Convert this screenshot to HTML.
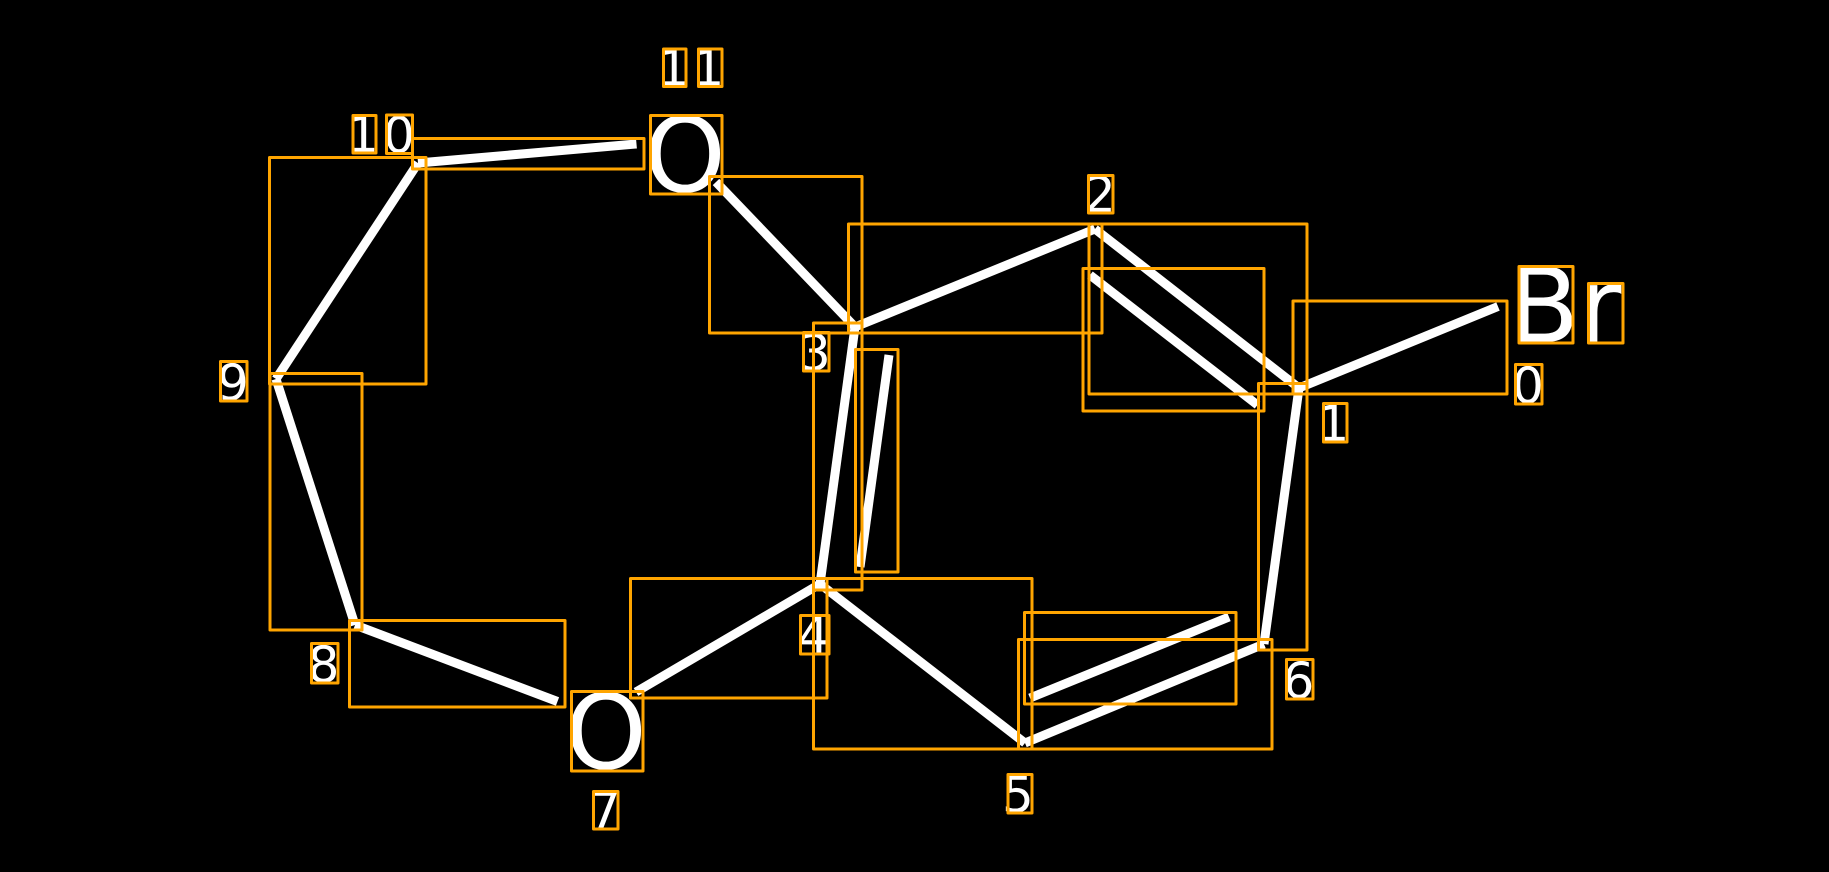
<!DOCTYPE html>
<html>
<head>
<meta charset="utf-8">
<style>
html,body{margin:0;padding:0;background:#000;width:1829px;height:872px;overflow:hidden}
svg{display:block}
text{font-family:"DejaVu Sans",sans-serif;fill:#fff;text-rendering:geometricPrecision}
.s{font-size:50px}
.b{font-size:104px}
</style>
</head>
<body>
<svg width="1829" height="872" viewBox="0 0 1829 872" xmlns="http://www.w3.org/2000/svg">
<rect width="1829" height="872" fill="#000"/>
<g stroke="#fff" stroke-width="9" fill="none" stroke-linecap="butt">
<line x1="1498" y1="306.5" x2="1299" y2="388"/>
<line x1="1299" y1="388" x2="1095" y2="229"/>
<line x1="1257.5" y1="405" x2="1090" y2="275"/>
<line x1="1095" y1="229" x2="855" y2="327"/>
<line x1="855" y1="327" x2="820" y2="584"/>
<line x1="889" y1="355" x2="860" y2="567"/>
<line x1="820" y1="584" x2="1025" y2="743"/>
<line x1="1025" y1="743" x2="1264" y2="644"/>
<line x1="1030" y1="698" x2="1229" y2="617"/>
<line x1="1264" y1="644" x2="1299" y2="388"/>
<line x1="820" y1="584" x2="636" y2="692"/>
<line x1="557.5" y1="701.5" x2="355" y2="625"/>
<line x1="355" y1="625" x2="276" y2="379"/>
<line x1="276" y1="379" x2="418" y2="163"/>
<line x1="418" y1="163" x2="636.5" y2="144"/>
<line x1="716" y1="182" x2="855" y2="327"/>
</g>
<text class="b" x="644" y="191.5">O</text>
<text class="b" x="565" y="768.5">O</text>
<text class="b" x="1508" y="342">B</text>
<text class="b" x="1578.5" y="342">r</text>
<text class="s" x="1512" y="403">0</text>
<text class="s" x="1317.5" y="441">1</text>
<text class="s" x="1084" y="212">2</text>
<text class="s" x="799" y="370">3</text>
<text class="s" x="797.5" y="653">4</text>
<text class="s" x="1002" y="812">5</text>
<text class="s" x="1282.5" y="698">6</text>
<text class="s" x="589" y="828">7</text>
<text class="s" x="307.6" y="682">8</text>
<text class="s" x="217" y="400">9</text>
<text class="s" x="347" y="152">1</text>
<text class="s" x="383" y="152.5">0</text>
<text class="s" x="657.5" y="85.5">1</text>
<text class="s" x="692.5" y="85.5">1</text>
<g stroke="#FFA500" stroke-width="3" fill="none" stroke-linejoin="round">
<rect x="1293" y="301" width="214" height="93"/>
<rect x="1089" y="224" width="218" height="170"/>
<rect x="1083" y="268.5" width="181" height="142.5"/>
<rect x="848.5" y="224" width="253.5" height="109"/>
<rect x="813.5" y="323" width="48.5" height="267"/>
<rect x="855.5" y="349.5" width="42.5" height="222.5"/>
<rect x="813.5" y="578.5" width="218.5" height="170.5"/>
<rect x="1018.5" y="639.5" width="253.5" height="109.5"/>
<rect x="1024.5" y="612.5" width="211.5" height="91.5"/>
<rect x="1258.5" y="383.5" width="48.5" height="266.5"/>
<rect x="630.5" y="578.5" width="196.5" height="119.5"/>
<rect x="349.5" y="620.5" width="215.5" height="86.5"/>
<rect x="270" y="373.5" width="92" height="256.5"/>
<rect x="269.5" y="157.5" width="156.5" height="226.5"/>
<rect x="412.5" y="138.5" width="231.5" height="30.5"/>
<rect x="709.5" y="176.5" width="152.5" height="156.5"/>
<rect x="650.5" y="115.5" width="71.5" height="78.5"/>
<rect x="571.5" y="691.5" width="71.5" height="79.5"/>
<rect x="1519" y="266.5" width="54" height="76.5"/>
<rect x="1588.5" y="283.5" width="34.5" height="59.5"/>
<rect x="1515.5" y="364.5" width="26.5" height="39.5"/>
<rect x="1323.5" y="403.5" width="23.5" height="38.5"/>
<rect x="1088.5" y="175.5" width="24.5" height="37.5"/>
<rect x="803.5" y="332.5" width="25.5" height="38.5"/>
<rect x="800.5" y="615.5" width="28.5" height="38.5"/>
<rect x="1008" y="774.5" width="24" height="38.5"/>
<rect x="1286.5" y="659.5" width="26.5" height="39.5"/>
<rect x="593.5" y="791.5" width="24.5" height="37.5"/>
<rect x="311.5" y="643.5" width="26.5" height="39.5"/>
<rect x="220.5" y="361.5" width="26.5" height="39.5"/>
<rect x="353" y="115.5" width="23" height="37.5"/>
<rect x="386.5" y="115" width="26" height="38.5"/>
<rect x="663.5" y="49" width="22.5" height="37.5"/>
<rect x="698.5" y="49" width="23.5" height="37.5"/>
</g>
</svg>
</body>
</html>
